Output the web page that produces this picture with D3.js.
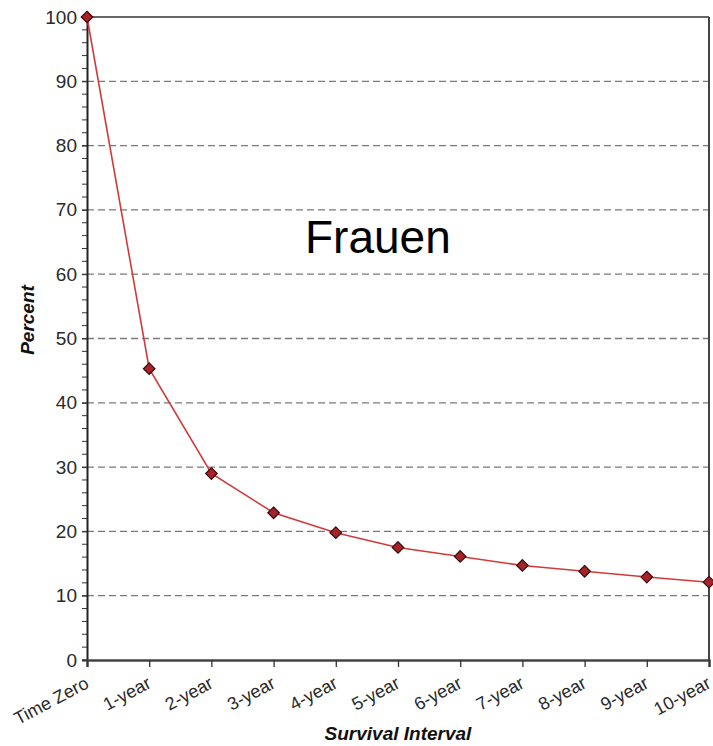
<!DOCTYPE html>
<html>
<head>
<meta charset="utf-8">
<script src="https://cdn.jsdelivr.net/npm/d3@7"></script>
<style>
  html, body { margin: 0; padding: 0; background: #fff; }
  svg { display: block; }
  text { font-family: "Liberation Sans", Arial, sans-serif; }
</style>
</head>
<body>
<script>
// ---- data ----
const categories = ["Time Zero", "1-year", "2-year", "3-year", "4-year", "5-year",
                    "6-year", "7-year", "8-year", "9-year", "10-year"];
const percentValues = [100, 45.3, 29.0, 22.9, 19.8, 17.5, 16.1, 14.7, 13.8, 12.9, 12.1];
const yTickValues = [0, 10, 20, 30, 40, 50, 60, 70, 80, 90, 100];
const gridValues = [10, 20, 30, 40, 50, 60, 70, 80, 90];
const minorTickValues = d3.range(0, 101, 2);
const chartLabel = "Frauen";
const xTitle = "Survival Interval";
const yTitle = "Percent";

// ---- layout ----
const W = 713, H = 746;
const mLeft = 87, mRight = 709, mTop = 17, mBottom = 660;

const svg = d3.select("body").append("svg").attr("width", W).attr("height", H);

const x = d3.scalePoint().domain(categories).range([mLeft, mRight]);
const y = d3.scaleLinear().domain([0, 100]).range([mBottom, mTop]);

// gridlines
svg.append("g").selectAll("line").data(gridValues).join("line")
  .attr("x1", mLeft).attr("x2", mRight)
  .attr("y1", d => y(d)).attr("y2", d => y(d))
  .attr("stroke", "#7a7a7a").attr("stroke-width", 1.3)
  .attr("stroke-dasharray", "7,4");

// top and right frame
svg.append("line").attr("x1", mLeft).attr("x2", mRight).attr("y1", y(100)).attr("y2", y(100))
  .attr("stroke", "#333").attr("stroke-width", 1.6);
svg.append("line").attr("x1", mRight).attr("x2", mRight).attr("y1", y(100)).attr("y2", y(0))
  .attr("stroke", "#444").attr("stroke-width", 2);

// minor y ticks
svg.append("g").selectAll("line").data(minorTickValues).join("line")
  .attr("x1", mLeft - 5).attr("x2", mLeft)
  .attr("y1", d => y(d)).attr("y2", d => y(d))
  .attr("stroke", "#333").attr("stroke-width", 1);

// y axis
const yAxis = svg.append("g").attr("transform", `translate(${mLeft},0)`)
  .call(d3.axisLeft(y).tickValues(yTickValues).tickSize(5).tickPadding(5).tickFormat(d3.format("d")));
yAxis.select(".domain").attr("stroke", "#222").attr("stroke-width", 2);
yAxis.selectAll(".tick line").attr("stroke", "#333");
yAxis.selectAll(".tick text").attr("font-size", 19).attr("fill", "#2a2a2a")
  .attr("font-family", "'Liberation Sans', Arial, sans-serif");

// x axis
const xAxis = svg.append("g").attr("transform", `translate(0,${mBottom})`)
  .call(d3.axisBottom(x).tickSize(7).tickFormat(""));
xAxis.select(".domain").attr("stroke", "#444").attr("stroke-width", 2.4);
xAxis.selectAll(".tick line").attr("stroke", "#333").attr("stroke-width", 1.3);

// x labels rotated
svg.append("g").selectAll("text").data(categories).join("text")
  .attr("transform", d => `translate(${x(d) + 3},${mBottom + 27}) rotate(-28)`)
  .attr("text-anchor", "end")
  .attr("font-size", 18).attr("fill", "#2a2a2a")
  .text(d => d);

// line
const line = d3.line().x((d, i) => x(categories[i])).y(d => y(d));
svg.append("path").datum(percentValues)
  .attr("d", line).attr("fill", "none")
  .attr("stroke", "#d23a3a").attr("stroke-width", 1.6);

// diamond markers
const sym = d3.symbol().type(d3.symbolDiamond2).size(85);
svg.append("g").selectAll("path").data(percentValues).join("path")
  .attr("transform", (d, i) => `translate(${x(categories[i])},${y(d)})`)
  .attr("d", sym)
  .attr("fill", "#a8222a").attr("stroke", "#3a0c0c").attr("stroke-width", 1.2);

// label inside chart
svg.append("text").attr("x", 305).attr("y", 253)
  .attr("font-size", 46).attr("fill", "#000").text(chartLabel);

// axis titles
svg.append("text").attr("x", (mLeft + mRight) / 2).attr("y", 740)
  .attr("text-anchor", "middle").attr("font-size", 19)
  .attr("font-weight", "bold").attr("font-style", "italic").attr("fill", "#111")
  .text(xTitle);
svg.append("text").attr("transform", `translate(34,320) rotate(-90)`)
  .attr("text-anchor", "middle").attr("font-size", 19)
  .attr("font-weight", "bold").attr("font-style", "italic").attr("fill", "#111")
  .text(yTitle);
</script>
</body>
</html>
